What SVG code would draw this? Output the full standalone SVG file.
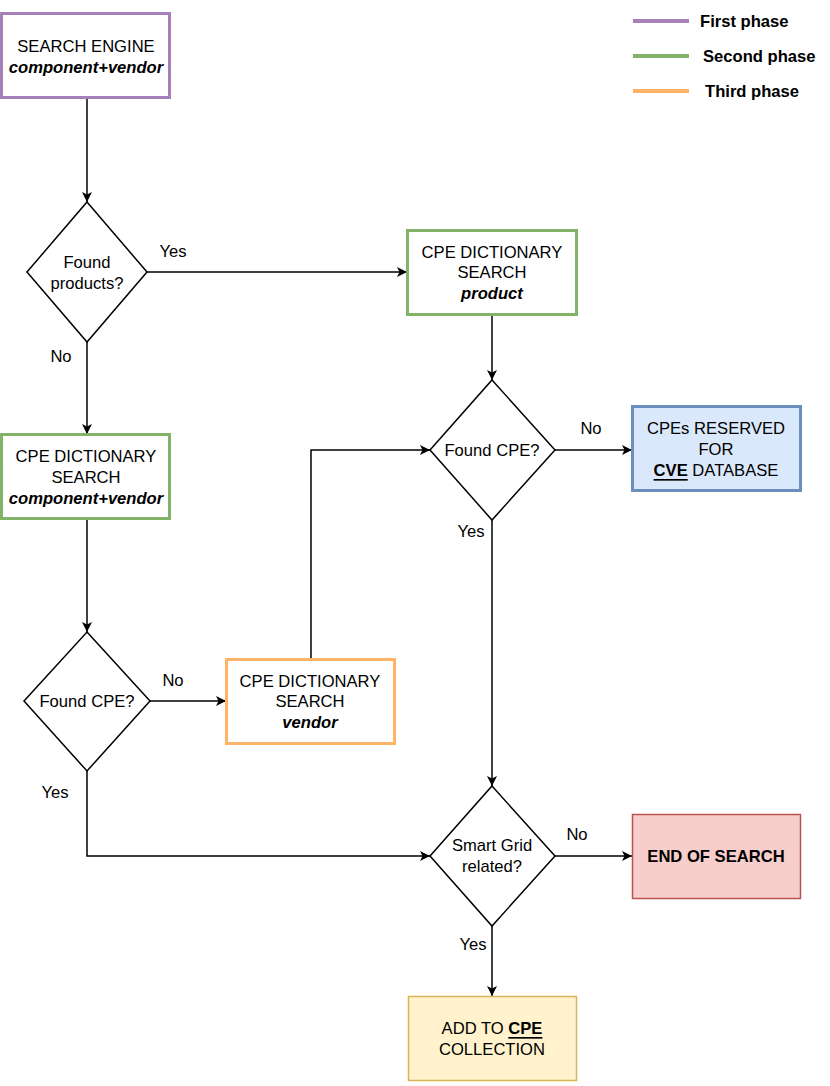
<svg xmlns="http://www.w3.org/2000/svg" width="830" height="1086" viewBox="0 0 830 1086">
<defs>
<marker id="arr" viewBox="0 0 10 10" refX="10" refY="5" markerWidth="10" markerHeight="10" markerUnits="userSpaceOnUse" orient="auto">
<path d="M0,0 L10,5 L0,10 L2.5,5 Z" fill="#000"/>
</marker>
<style>
text{font-family:"Liberation Sans",Arial,sans-serif;font-size:16.6px;fill:#000;text-anchor:middle;dominant-baseline:central}
.b{font-weight:bold}
.bi{font-weight:bold;font-style:italic}
.u{font-weight:bold;text-decoration:underline}
.leg{font-size:16.6px;font-weight:bold;text-anchor:start}
.node{fill:#fff;stroke-width:3}
.dia{fill:#fff;stroke:#000;stroke-width:1.5}
.edge{fill:none;stroke:#000;stroke-width:1.5;marker-end:url(#arr)}
</style>
</defs>
<rect width="830" height="1086" fill="#fff"/>

<g id="legend">
<line x1="633" y1="21" x2="689" y2="21" stroke="#A680B8" stroke-width="4"/>
<line x1="633" y1="56" x2="689" y2="56" stroke="#82B366" stroke-width="4"/>
<line x1="633" y1="91" x2="689" y2="91" stroke="#FFB366" stroke-width="4"/>
<text class="leg" x="700" y="21">First phase</text>
<text class="leg" x="703" y="56">Second phase</text>
<text class="leg" x="705" y="91">Third phase</text>
</g>

<g id="connectors">
<line class="edge" x1="87" y1="98" x2="87" y2="202"/>
<line class="edge" x1="147" y1="272" x2="407" y2="272"/>
<line class="edge" x1="87" y1="342" x2="87" y2="434"/>
<line class="edge" x1="87" y1="519" x2="87" y2="632"/>
<line class="edge" x1="150" y1="701" x2="226" y2="701"/>
<polyline class="edge" points="311,659 311,450 430,450"/>
<line class="edge" x1="492" y1="315" x2="492" y2="380"/>
<line class="edge" x1="555" y1="450" x2="632" y2="450"/>
<line class="edge" x1="492" y1="520" x2="492" y2="786"/>
<polyline class="edge" points="87,771 87,856 430,856"/>
<line class="edge" x1="555" y1="856" x2="632" y2="856"/>
<line class="edge" x1="492" y1="926" x2="492" y2="996"/>
<text x="173" y="251">Yes</text>
<text x="61" y="356">No</text>
<text x="173" y="680">No</text>
<text x="591" y="428">No</text>
<text x="471" y="531">Yes</text>
<text x="55" y="792">Yes</text>
<text x="577" y="834">No</text>
<text x="473" y="944">Yes</text>
</g>

<g id="search-engine">
<rect class="node" x="1.5" y="13.5" width="168" height="84" stroke="#A680B8"/>
<text x="86" y="46">SEARCH ENGINE</text>
<text class="bi" x="86" y="67">component+vendor</text>
</g>

<g id="found-products">
<polygon class="dia" points="87,202 147,272 87,342 27,272"/>
<text x="87" y="262">Found</text>
<text x="87" y="283">products?</text>
</g>

<g id="cpe-product">
<rect class="node" x="407.5" y="230.5" width="169" height="84" stroke="#82B366"/>
<text x="492" y="252">CPE DICTIONARY</text>
<text x="492" y="272">SEARCH</text>
<text class="bi" x="492" y="293">product</text>
</g>

<g id="cpe-component-vendor">
<rect class="node" x="1.5" y="434.5" width="168" height="84" stroke="#82B366"/>
<text x="86" y="456">CPE DICTIONARY</text>
<text x="86" y="477">SEARCH</text>
<text class="bi" x="86" y="498">component+vendor</text>
</g>

<g id="found-cpe-left">
<polygon class="dia" points="87,632 150,701 87,771 24,701"/>
<text x="87" y="701">Found CPE?</text>
</g>

<g id="cpe-vendor">
<rect class="node" x="226.5" y="659.5" width="168" height="84" stroke="#FFB366"/>
<text x="310" y="681">CPE DICTIONARY</text>
<text x="310" y="701">SEARCH</text>
<text class="bi" x="310" y="722">vendor</text>
</g>

<g id="found-cpe-right">
<polygon class="dia" points="492,380 555,450 492,520 430,450"/>
<text x="492" y="450">Found CPE?</text>
</g>

<g id="cve-database">
<rect x="632.5" y="406.5" width="168" height="84" fill="#DAE8FC" stroke="#6C8EBF" stroke-width="3"/>
<text x="716" y="428">CPEs RESERVED</text>
<text x="716" y="449">FOR</text>
<text x="716" y="470"><tspan class="u">CVE</tspan> DATABASE</text>
</g>

<g id="smart-grid">
<polygon class="dia" points="492,786 555,856 492,926 430,856"/>
<text x="492" y="845">Smart Grid</text>
<text x="492" y="866">related?</text>
</g>

<g id="end-of-search">
<rect x="632.5" y="814.5" width="168" height="84" fill="#F8CECC" stroke="#B85450" stroke-width="1.5"/>
<text class="b" x="716" y="856">END OF SEARCH</text>
</g>

<g id="add-to-cpe">
<rect x="408.5" y="996.5" width="168" height="84" fill="#FFF2CC" stroke="#D6B656" stroke-width="1.5"/>
<text x="492" y="1028">ADD TO <tspan class="u">CPE</tspan></text>
<text x="492" y="1049">COLLECTION</text>
</g>
</svg>
